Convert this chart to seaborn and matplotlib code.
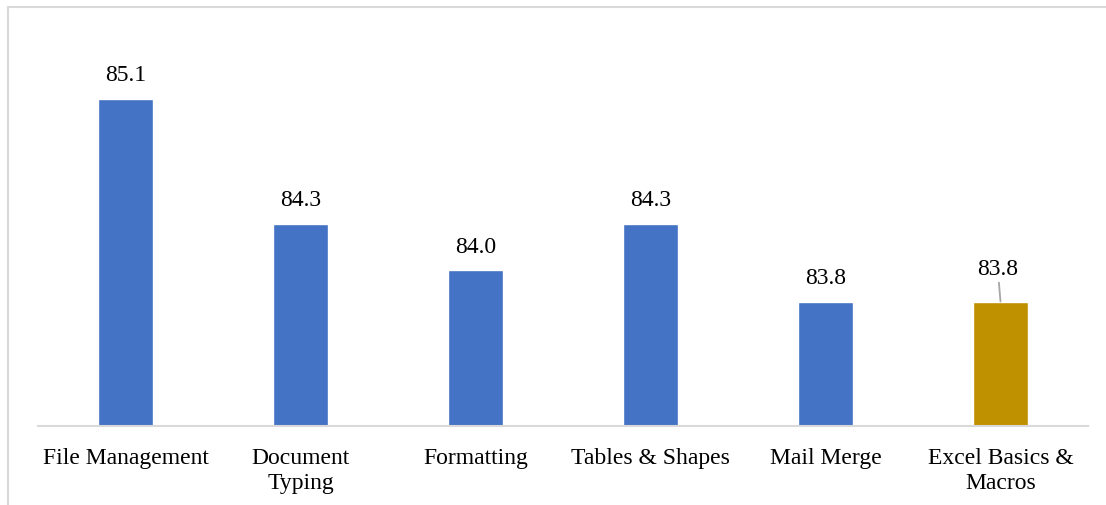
import matplotlib
matplotlib.use("Agg")
import matplotlib.pyplot as plt
import seaborn as sns
from matplotlib.patches import Rectangle

categories = ["File Management", "Document\nTyping", "Formatting",
              "Tables & Shapes", "Mail Merge", "Excel Basics &\nMacros"]
scores = [85.1, 84.3, 84.0, 84.3, 83.8, 83.8]
bar_colors = ["#4472C4", "#4472C4", "#4472C4", "#4472C4", "#4472C4", "#BF9000"]

sns.set_style("white")
plt.rcParams['font.family'] = ['Liberation Serif', 'DejaVu Serif']
plt.rcParams['text.color'] = 'black'

fig = plt.figure(figsize=(11.06, 5.06), dpi=100)
ax = fig.add_axes([38 / 1106, 79 / 506, 1050 / 1106, 389 / 506])

sns.barplot(x=categories, y=scores, hue=categories, palette=bar_colors,
            legend=False, width=0.314, ax=ax, saturation=1)

ax.set_ylim(83.0, 85.5)
ax.set_xlim(-0.5, 5.5)
for side in ["top", "right", "left"]:
    ax.spines[side].set_visible(False)
ax.spines["bottom"].set_color("#D9D9D9")
ax.spines["bottom"].set_linewidth(1.5)
ax.set_yticks([])
ax.tick_params(axis="x", length=0, pad=15, labelsize=17, colors="black")
for lbl in ax.get_xticklabels():
    lbl.set_linespacing(1.25)
ax.set_xlabel("")
ax.set_ylabel("")

# data labels
for i, v in enumerate(scores):
    if i == len(scores) - 1:
        ax.annotate(f"{v:.1f}", xy=(i, v), xytext=(-2, 16), textcoords="offset points",
                    ha="center", va="bottom", fontsize=17, color="black",
                    arrowprops=dict(arrowstyle="-", color="#A6A6A6", lw=1.3,
                                    shrinkA=0, shrinkB=0))
    else:
        ax.annotate(f"{v:.1f}", xy=(i, v), xytext=(0, 10), textcoords="offset points",
                    ha="center", va="bottom", fontsize=17, color="black")

# chart border
fig.patches.append(Rectangle((8 / 1106, -0.1), 1.2, (506 - 8) / 506 + 0.1,
                             transform=fig.transFigure, fill=False,
                             edgecolor="#D9D9D9", lw=1.5))

fig.savefig("out.png", dpi=100)
